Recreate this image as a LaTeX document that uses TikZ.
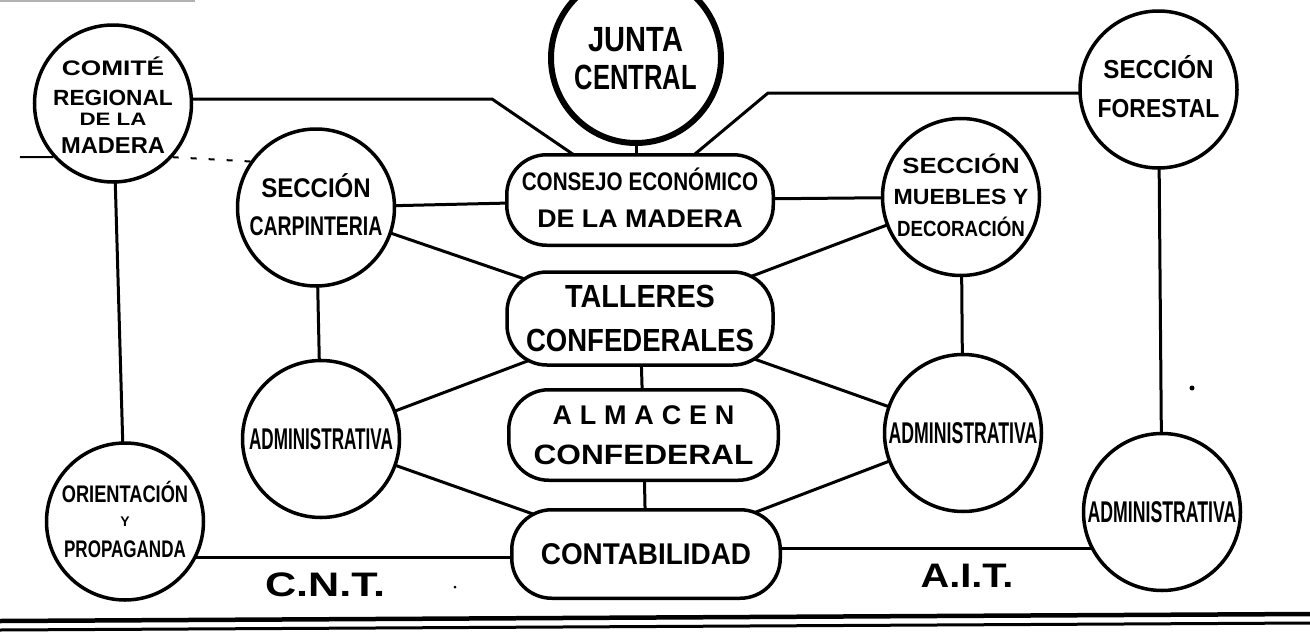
\documentclass[tikz,border=0pt]{standalone}
\usepackage{fontspec}
\usepackage{graphicx}
\setmainfont{Liberation Sans}
\usetikzlibrary{backgrounds}
\newcommand\hs[2]{\makebox[0pt]{\scalebox{#1}[1]{\smash{#2}\vphantom{H}}}}
\newcommand\fs[1]{\fontsize{#1}{#1}\selectfont}
\begin{document}
\begin{tikzpicture}[x=1pt,y=-1pt,
  fnt/.style 2 args={font=\bfseries\fontsize{#1}{#2}\selectfont},
  circ/.style={circle, draw, fill=white, line width=3.5pt, minimum size=157pt, inner sep=0pt, align=center},
  pill/.style={rectangle, rounded corners=40pt, draw, fill=white, line width=3.5pt, inner sep=0pt, align=center},
  conn/.style={line width=3pt},
  thinconn/.style={line width=2pt},
  dashconn/.style={line width=2pt, dash pattern=on 6pt off 12pt},
  rulebar/.style={line width=#1},
]
\useasboundingbox (0,0) rectangle (1310,640);

% central column
\node[circ, line width=6pt, minimum size=170pt, fnt={35}{38}] (junta) at (636,58) {\hs{0.83}{JUNTA}\\\hs{0.73}{CENTRAL}};
\node[pill, minimum width=266.5pt, minimum height=90.5pt, fnt={25.5}{37}] (consejo) at (640,200) {\hs{0.81}{CONSEJO ECONÓMICO}\\\hs{1.05}{DE LA MADERA}};
\node[pill, minimum width=266pt, minimum height=93pt, fnt={32}{44}] (talleres) at (640,318.5) {\hs{0.9}{TALLERES}\\\hs{0.86}{CONFEDERALES}};
\node[pill, minimum width=269.5pt, minimum height=90.5pt, fnt={28}{40}] (almacen) at (643.5,435) {{\fs{27}\hs{1}{A\kern7.8pt L\kern7.8pt M\kern7.8pt A\kern7.8pt C\kern7.8pt E\kern7.8pt N}}\\\hs{1.13}{CONFEDERAL}};
\node[pill, minimum width=268.5pt, minimum height=88.5pt, fnt={30}{30}] (contab) at (646,554) {\hs{0.93}{CONTABILIDAD}};

% left side
\node[circ, fnt={22}{24}] (comite) at (113,103.5) {\rule{0pt}{22pt}{\fs{21}\hs{1.25}{COMITÉ}}\\[6.4pt]\hs{1.03}{REGIONAL}\\[-4.5pt]{\fs{18}\hs{1.24}{DE LA}}\\[4.8pt]{\fs{23}\hs{1.03}{MADERA}}};
\node[circ, fnt={27}{38}] (carp) at (316,207.5) {\hs{0.89}{SECCIÓN}\\\hs{0.72}{CARPINTERIA}};
\node[circ, fnt={30}{30}] (adminl) at (321,439) {\hs{0.57}{ADMINISTRATIVA}};
\node[circ, fnt={24}{27}] (orient) at (125,521.5) {\hs{0.76}{ORIENTACIÓN}\\[-2.6pt]{\fs{14}\hs{1}{Y}}\\[3.6pt]\hs{0.71}{PROPAGANDA}};

% right side
\node[circ, fnt={26}{39}] (forestal) at (1158.5,89.5) {\hs{0.93}{SECCIÓN}\\\hs{0.88}{FORESTAL}};
\node[circ, fnt={22}{31.5}] (muebles) at (961,197) {\hs{1.17}{SECCIÓN}\\\hs{1.05}{MUEBLES Y}\\\hs{0.85}{DECORACIÓN}};
\node[circ, fnt={30}{30}] (adminr) at (963,433) {\hs{0.59}{ADMINISTRATIVA}};
\node[circ, fnt={30}{30}] (adminfr) at (1162,512) {\hs{0.59}{ADMINISTRATIVA}};

% labels
\node[fnt={34}{34}] (cnt) at (325,585) {\hs{1.27}{C.N.T.}};
\node[fnt={34}{34}] (ait) at (967,576) {\hs{1.17}{A.I.T.}};

\coordinate (bendA) at (492,99);
\coordinate (bendB) at (768,93);
\coordinate (stub) at (20,157);
\coordinate (hOrient) at (0,557);
\coordinate (hAit) at (0,548);

\begin{pgfonlayer}{background}
\draw[conn] (comite.center |- bendA) -- (bendA) -- (consejo.center);
\draw[conn] (consejo.center) -- (bendB) -- (bendB -| forestal.center);
\draw[conn] (junta.center) -- (junta.center |- consejo.center);
\draw[conn] (carp.center) -- (consejo.center);
\draw[conn] (consejo.center) -- (muebles.center);
\draw[conn] (carp.center) -- (talleres.center);
\draw[conn] (muebles.center) -- (talleres.center);
\draw[conn] (talleres.center) -- (almacen.center);
\draw[conn] (almacen.center) -- (contab.center);
\draw[conn] (talleres.center) -- (adminl.center);
\draw[conn] (talleres.center) -- (adminr.center);
\draw[conn] (adminl.center) -- (contab.center);
\draw[conn] (adminr.center) -- (contab.center);
\draw[conn] (carp.center) -- (adminl.center);
\draw[conn] (muebles.center) -- (adminr.center);
\draw[conn] (comite.center) -- (orient.center);
\draw[conn] (forestal.center) -- (adminfr.center);
\draw[conn] (orient.center |- hOrient) -- (contab.center |- hOrient);
\draw[conn] (contab.center |- hAit) -- (adminfr.center |- hAit);
\end{pgfonlayer}

\draw[thinconn] (stub) -- (comite.222);
\draw[dashconn] (comite.-42) -- (carp.145);

% specks
\fill (1192,388) circle (2.5pt);
\fill (455,587) circle (1.5pt);

% bottom rules
\draw[rulebar=4.5pt] (0,621) -- (1310,614);
\draw[rulebar=3pt] (0,630) -- (1310,623);
\draw[rulebar=2pt, gray!60] (0,1) -- (195,1);
\end{tikzpicture}
\end{document}
